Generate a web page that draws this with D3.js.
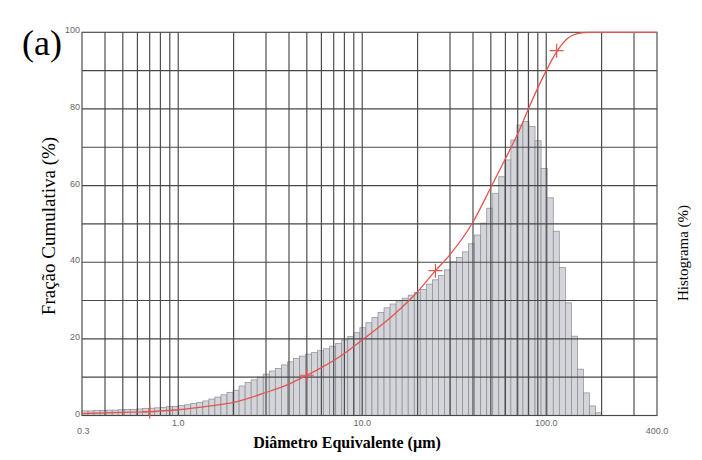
<!DOCTYPE html>
<html><head><meta charset="utf-8">
<script src="https://cdn.jsdelivr.net/npm/d3@7"></script>
<style>body{margin:0;background:#fff} svg{display:block}</style>
</head><body>
<svg id="c" width="702" height="460"></svg>
<script>
// Histogram class boundaries (µm), 86 classes
const binEdges = [0.300,0.3235,0.3489,0.3763,0.4058,0.4377,0.4721,0.5091,0.5491,0.5922,
0.6387,0.6888,0.7429,0.8012,0.8641,0.9325,1.0058,1.0847,1.1700,1.2618,
1.3609,1.4677,1.5830,1.7073,1.8413,1.9859,2.1418,2.3100,2.4913,2.6869,
2.8979,3.1254,3.3708,3.6355,3.9208,4.2287,4.5607,4.9188,5.3049,5.7214,
6.1706,6.6551,7.1776,7.7412,8.3489,9.0044,9.7114,10.474,11.296,12.183,
13.140,14.171,15.284,16.484,17.779,19.175,20.680,22.304,24.055,25.944,
27.981,30.178,32.547,35.103,37.859,40.831,44.037,47.494,51.223,55.245,
59.583,64.261,69.306,74.747,80.616,86.946,93.772,101.27,109.22,117.79,
127.06,137.03,147.79,159.39,171.91,185.41,200.0];
// Histogram heights (as drawn, on 0–100 plot scale)
const histValues = [1.2,1.2,1.3,1.3,1.4,1.4,1.5,1.6,1.6,1.7,
1.8,1.9,2.0,2.1,2.3,2.4,2.6,2.8,3.1,3.4,
3.8,4.3,4.8,5.4,6.0,6.6,7.7,8.6,9.3,10.0,
10.8,11.6,12.3,13.2,14.0,14.9,15.5,16.0,16.4,16.9,
17.4,18.1,18.8,19.7,20.6,21.6,22.9,24.2,25.6,26.9,
28.1,29.1,29.9,30.6,31.4,32.1,32.9,34.3,35.4,36.5,
38.0,40.1,41.2,42.7,44.8,47.1,50.2,54.1,58.0,62.3,
66.7,71.9,75.8,76.7,75.4,71.7,64.5,56.8,48.1,38.6,
29.4,20.7,12.1,5.9,2.5,0.7];
// Cumulative curve
const cumDiameters = [0.3,0.5,0.7,1.0,1.5,2,3,4,5,6,8,10,15,20,25,30,40,50,60,70,80,90,100,115,130,150,170,400];
const cumValues =    [0.5,0.8,1.0,1.5,2.5,3.4,6.0,8.2,10.5,12.5,16.2,19.7,26.5,32.3,37.8,42.0,50.5,59.5,67,73.5,80,85.5,90,95.2,98.3,99.7,100,100];
const markerDiameters = [0.7,5,25,114];
const markerValues = [1.0,10.5,37.8,95.2];
// Axes
const xTickValues = [0.3,1,10,100,400];
const xTickLabels = ["0.3","1.0","10.0","100.0","400.0"];
const xGridValues = [0.4,0.5,0.6,0.7,0.8,0.9,1,2,3,4,5,6,7,8,9,10,20,30,40,50,60,70,80,90,100,200,300];
const yTickValues = [0,20,40,60,80,100];
const yGridValues = [10,20,30,40,50,60,70,80,90];

const svg = d3.select("#c");
const L=82, R=657, T=32.3, B=415.5;
const x = d3.scaleLog().domain([0.3,400]).range([L,R]);
const y = d3.scaleLinear().domain([0,100]).range([B,T]);

// bars
svg.append("g").selectAll("rect").data(histValues).join("rect")
  .attr("x",(d,i)=>x(binEdges[i]))
  .attr("width",(d,i)=>x(binEdges[i+1])-x(binEdges[i]))
  .attr("y",d=>y(d))
  .attr("height",d=>B-y(d))
  .attr("fill","#d4d5db").attr("stroke","#8a8b90").attr("stroke-width",0.7);

// grid
const grid = svg.append("g").attr("stroke","#474747").attr("stroke-width",1.15);
grid.selectAll("line.v").data(xGridValues).join("line").attr("class","v")
  .attr("x1",d=>x(d)).attr("x2",d=>x(d)).attr("y1",T).attr("y2",B);
grid.selectAll("line.h").data(yGridValues).join("line").attr("class","h")
  .attr("x1",L).attr("x2",R).attr("y1",d=>y(d)).attr("y2",d=>y(d));
grid.append("rect").attr("x",L).attr("y",T).attr("width",R-L).attr("height",B-T).attr("fill","none");

// cumulative curve
const pts = cumDiameters.map((d,i)=>[d,cumValues[i]]);
svg.append("path").datum(pts)
  .attr("d",d3.line().x(d=>x(d[0])).y(d=>y(d[1])).curve(d3.curveMonotoneX))
  .attr("fill","none").attr("stroke","#e4544f").attr("stroke-width",1.3);
svg.append("g").selectAll("path").data(markerDiameters).join("path")
  .attr("transform",(d,i)=>`translate(${x(d)},${y(markerValues[i])})`)
  .attr("d","M-7,0H7M0,-7V7")
  .attr("stroke","#e4544f").attr("stroke-width",1.2).attr("fill","none");

// tick labels
const tickFont = "'Liberation Sans', Arial, sans-serif";
svg.append("g").selectAll("text").data(yTickValues).join("text")
  .attr("x",L-2).attr("y",d=>y(d)+1).attr("text-anchor","end")
  .attr("font-family",tickFont).attr("font-size",9).attr("fill","#666")
  .text(d=>d);
svg.append("g").selectAll("text").data(xTickValues).join("text")
  .attr("x",d=>x(d)).attr("y",(d,i)=>(i===0||i===xTickValues.length-1)?434:426)
  .attr("text-anchor",(d,i)=>i===0?"start":"middle")
  .attr("dx",(d,i)=>i===0?-5:0)
  .attr("font-family",tickFont).attr("font-size",9).attr("fill","#666")
  .text((d,i)=>xTickLabels[i]);

// titles
const serif = "'Liberation Serif','Times New Roman',serif";
svg.append("text").attr("x",347).attr("y",448).attr("text-anchor","middle")
  .attr("font-family",serif).attr("font-weight","bold").attr("font-size",16)
  .text("Diâmetro Equivalente (µm)");
svg.append("text").attr("transform","translate(55,226) rotate(-90)").attr("text-anchor","middle")
  .attr("font-family",serif).attr("font-size",19).text("Fração Cumulativa (%)");
svg.append("text").attr("transform","translate(688,253) rotate(-90)").attr("text-anchor","middle")
  .attr("font-family",serif).attr("font-size",15).text("Histograma (%)");
svg.append("text").attr("x",22).attr("y",55)
  .attr("font-family",serif).attr("font-size",36).text("(a)");
</script>
</body></html>
